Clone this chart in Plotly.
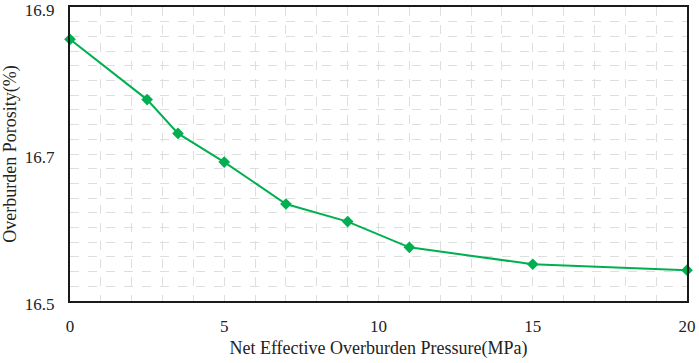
import plotly.graph_objects as go

pressure = [0, 2.5, 3.5, 5, 7, 9, 11, 15, 20]
porosity = [16.856, 16.774, 16.728, 16.689, 16.632, 16.608, 16.573, 16.550, 16.542]

x_ticks = [0, 5, 10, 15, 20]
y_ticks = [16.5, 16.7, 16.9]

green = "#00B050"
font_family = "'Liberation Serif', 'Times New Roman', serif"

fig = go.Figure()
fig.add_trace(go.Scatter(
    x=pressure, y=porosity, mode="lines+markers",
    line=dict(color=green, width=2),
    marker=dict(symbol="diamond", size=9, color=green),
    showlegend=False, cliponaxis=False,
))

grid = dict(showgrid=True, gridcolor="#dedede", gridwidth=1, griddash="dash")

fig.update_layout(
    width=699, height=363,
    margin=dict(l=70, r=12, t=7, b=62),
    paper_bgcolor="white", plot_bgcolor="white",
    font=dict(family=font_family, size=17, color="#222"),
    xaxis=dict(
        range=[0, 20], tickvals=x_ticks, ticks="outside", ticklen=9, tickcolor="rgba(0,0,0,0)",
        showline=True, linecolor="#1a1a1a", linewidth=2, mirror=True,
        zeroline=False, automargin=False, ticklabeloverflow="allow",
        tickfont=dict(family=font_family, size=17),
        title=dict(text="Net Effective Overburden Pressure(MPa)", standoff=6,
                   font=dict(family=font_family, size=18)),
        minor=dict(dtick=1, showgrid=True, gridcolor="#dedede", griddash="dash"),
        **grid,
    ),
    yaxis=dict(
        range=[16.5, 16.9], tickvals=y_ticks, tickformat=".1f",
        ticks="outside", ticklen=10, tickcolor="rgba(0,0,0,0)",
        showline=True, linecolor="#1a1a1a", linewidth=2, mirror=True,
        zeroline=False, automargin=False, ticklabeloverflow="allow",
        ticklabelshift=3,
        tickfont=dict(family=font_family, size=17),
        title=dict(text="Overburden Porosity(%)", standoff=6,
                   font=dict(family=font_family, size=18)),
        minor=dict(dtick=0.02, tick0=16.5, showgrid=True, gridcolor="#dedede", griddash="dash"),
        **grid,
    ),
)

fig.write_html("out.html", config={"displayModeBar": False},
               post_script="document.body.style.margin='0';")
